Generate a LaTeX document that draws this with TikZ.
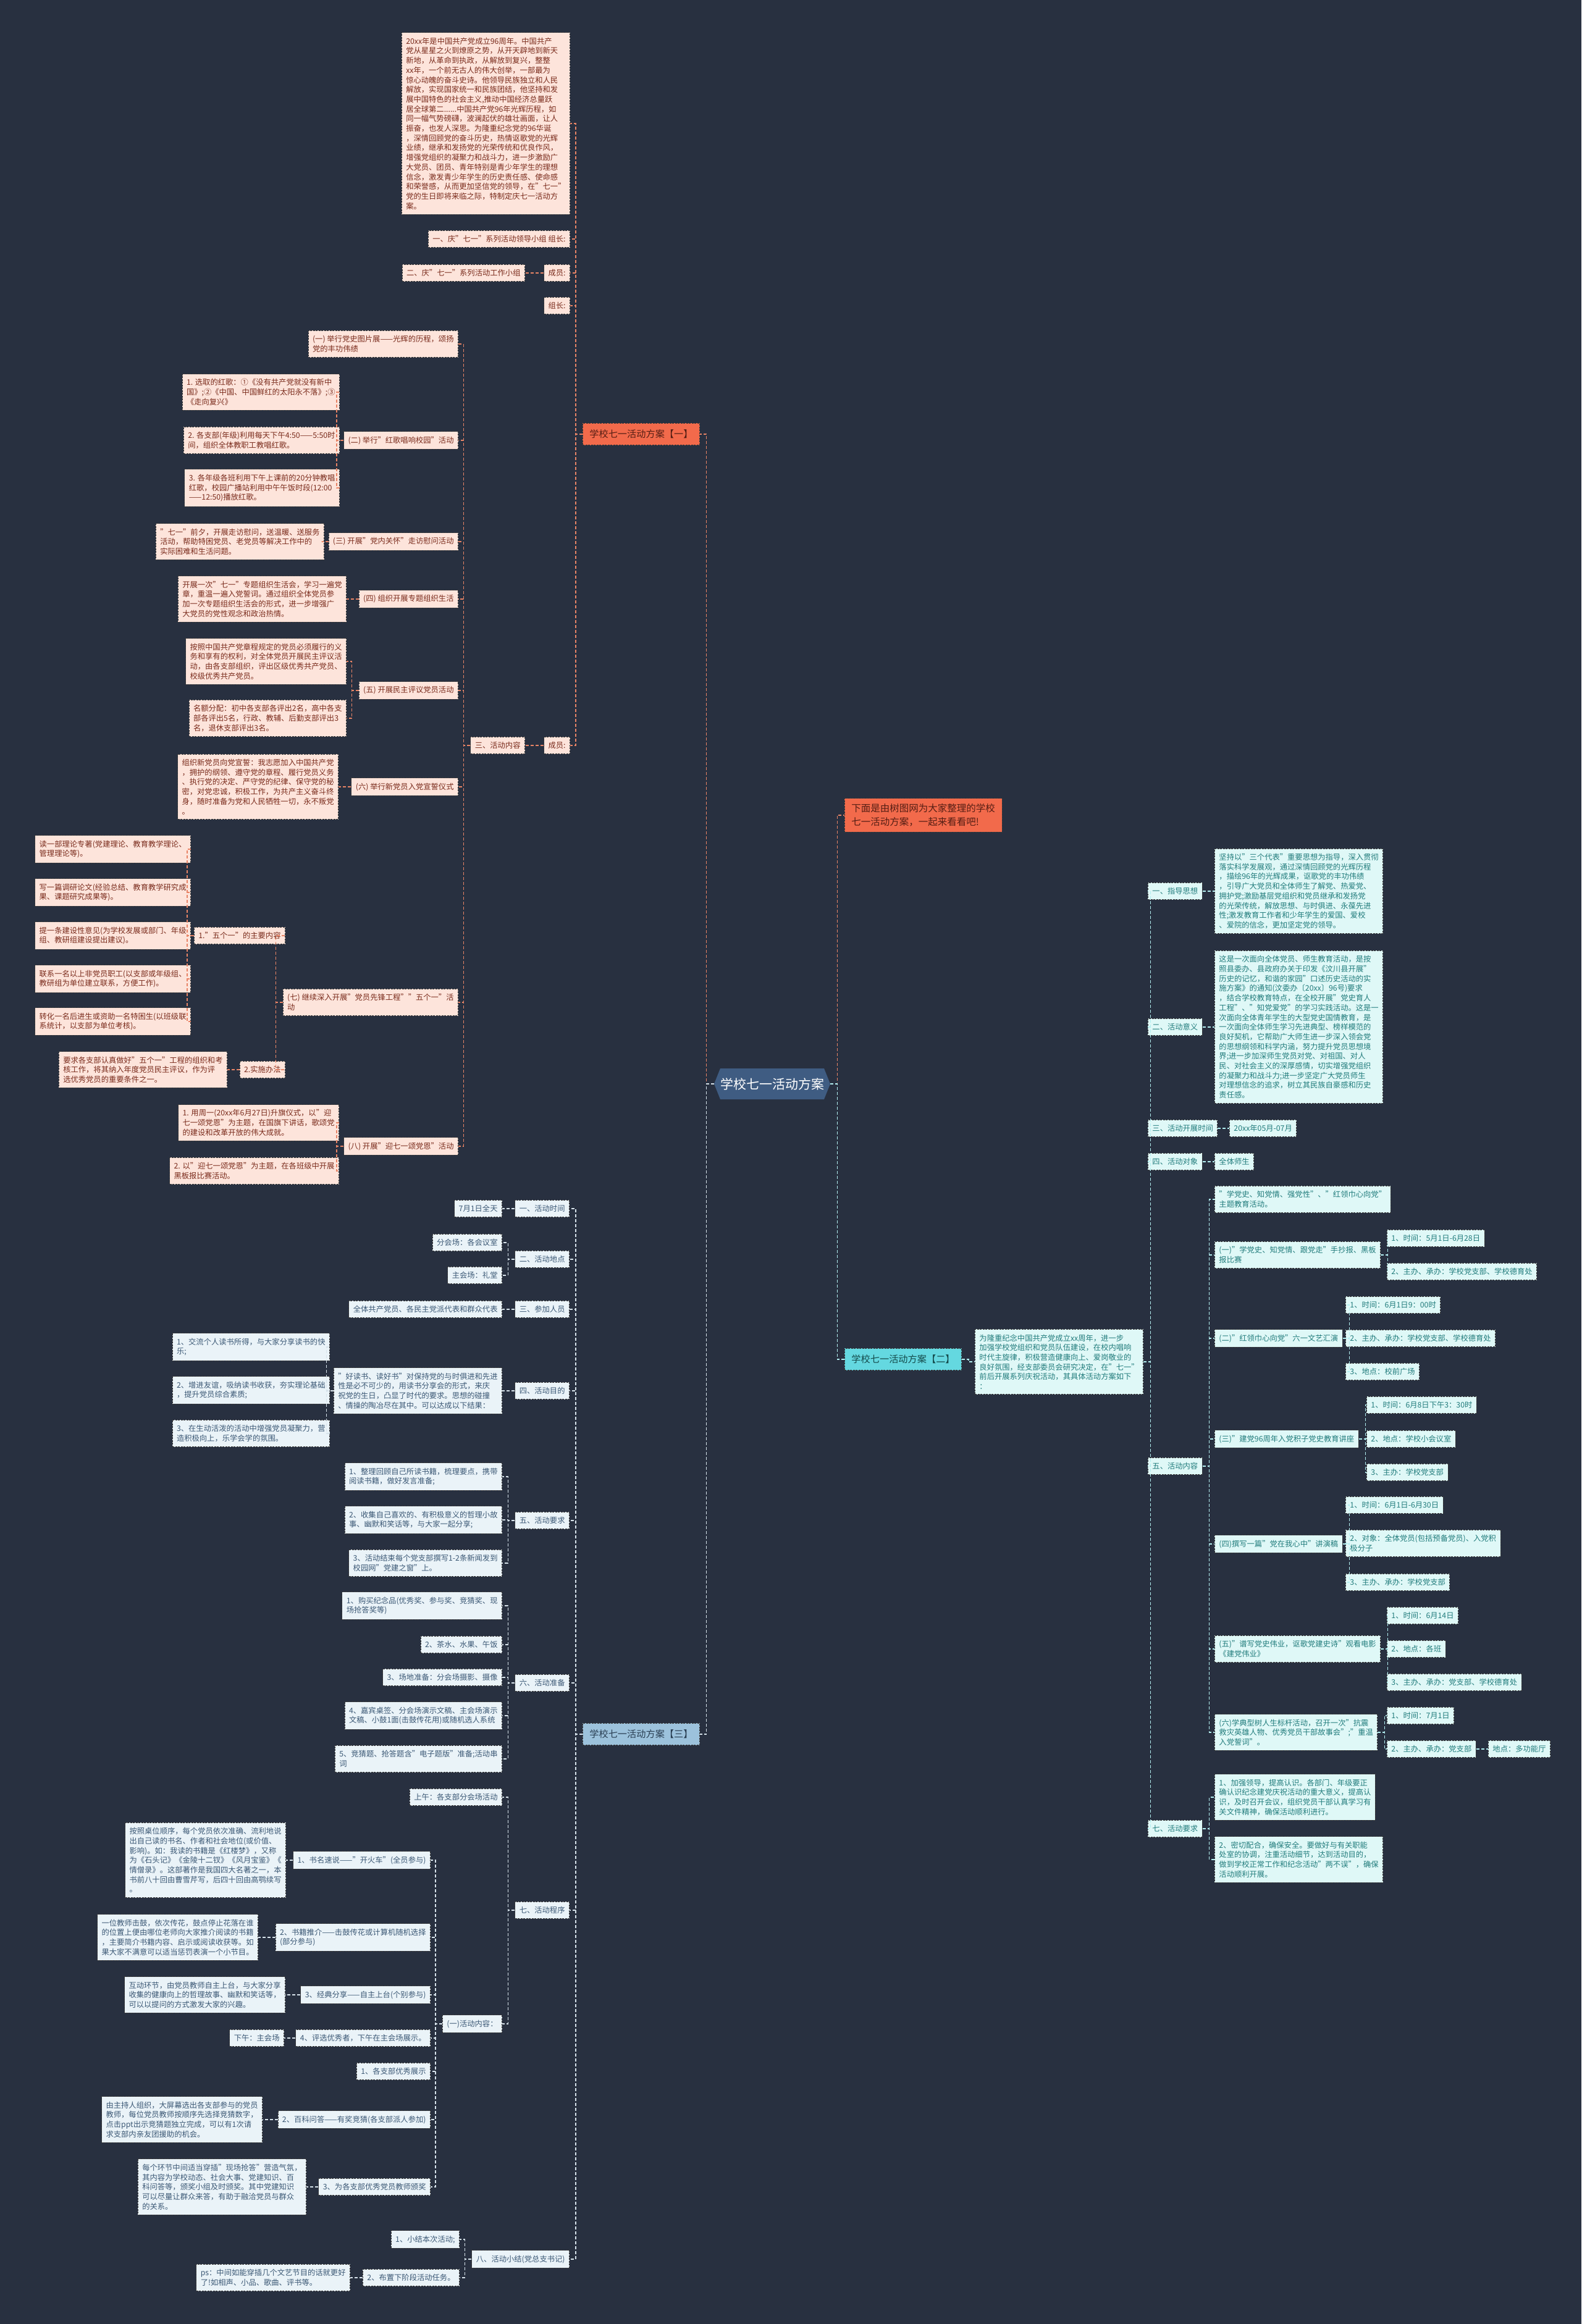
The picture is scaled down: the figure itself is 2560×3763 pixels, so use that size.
\documentclass[tikz,border=0pt]{standalone}
\usepackage{fontspec}
\setmainfont{Noto Sans CJK SC}
\definecolor{bgc}{HTML}{283040}
\definecolor{aFill}{HTML}{FDE4DB}
\definecolor{aText}{HTML}{7A2B1C}
\definecolor{aLine}{HTML}{E88466}
\definecolor{aHead}{HTML}{F26A4B}
\definecolor{bFill}{HTML}{EAF3F8}
\definecolor{bText}{HTML}{3B5875}
\definecolor{bLine}{HTML}{D6E2EA}
\definecolor{bHead}{HTML}{9CC2DC}
\definecolor{cFill}{HTML}{DFF8F7}
\definecolor{cText}{HTML}{217C7C}
\definecolor{cLine}{HTML}{B2EEF0}
\definecolor{cHead}{HTML}{64D8E0}
\definecolor{ctrFill}{HTML}{3F5C82}
\definecolor{bord}{HTML}{3A3A3A}
\tikzset{
  box/.style={font=\fontsize{12.3}{15.7}\selectfont, align=left, inner xsep=7pt, inner ysep=8pt, line width=0.9pt, dash pattern=on 3pt off 1.5pt, draw=bord},
  na/.style={box, fill=aFill, text=aText},
  nb/.style={box, fill=bFill, text=bText},
  nc/.style={box, fill=cFill, text=cText},
  hd/.style={font=\fontsize{15.2}{18}\selectfont, inner xsep=11pt, inner ysep=10.5pt, line width=0.9pt, dash pattern=on 3pt off 1.5pt, draw=bord},
  ln/.style={line width=1.3pt, dash pattern=on 5pt off 3pt},
  la/.style={ln, draw=aLine}, lb/.style={ln, draw=bLine}, lc/.style={ln, draw=cLine},
  lft/.style={anchor=east}, rgt/.style={anchor=west}
}
\newcommand\Lc[3]{\draw[#1] (#3.west) -- ++(-11,0) |- (#2.east);}
\newcommand\Rc[3]{\draw[#1] (#3.east) -- ++(11,0) |- (#2.west);}
\begin{document}
\begin{tikzpicture}[x=1pt,y=-1pt]
\useasboundingbox (0,0) rectangle (2560,3763);
\fill[bgc] (0,0) rectangle (2560,3763);
% ---------- centre ----------
\fill[ctrFill] (1156,1755) -- (1166,1730) -- (1334,1730) -- (1344,1755) -- (1334,1780) -- (1166,1780) -- cycle;
\node[font=\fontsize{21}{25}\selectfont, text=white, minimum width=188pt, minimum height=50pt, inner sep=0pt] (ctr) at (1250,1755) {学校七一活动方案};
% ---------- heads ----------
\node[hd, fill=aHead, text=aText!70!black, lft] (a0) at (1133,703) {学校七一活动方案【一】};
\node[hd, fill=bHead, text=bText!70!black, lft] (b0) at (1133,2808) {学校七一活动方案【三】};
\node[hd, fill=cHead, text=cText!60!black, rgt] (c0) at (1367,2201) {学校七一活动方案【二】};
\node[hd, fill=aHead, text=aText!70!black, rgt, font=\fontsize{15.5}{22}\selectfont, align=left, inner xsep=11pt, inner ysep=9pt] (iN) at (1367,1320) {下面是由树图网为大家整理的学校\\七一活动方案，一起来看看吧!};
% ---------- branch one ----------
\node[na, lft] (aP) at (923,200) {20xx年是中国共产党成立96周年。中国共产\\党从星星之火到燎原之势，从开天辟地到新天\\新地，从革命到执政，从解放到复兴，整整\\xx年，一个前无古人的伟大创举，一部最为\\惊心动魄的奋斗史诗。他领导民族独立和人民\\解放，实现国家统一和民族团结，他坚持和发\\展中国特色的社会主义,推动中国经济总量跃\\居全球第二......中国共产党96年光辉历程，如\\同一幅气势磅礴，波澜起伏的雄壮画面，让人\\振奋，也发人深思。为隆重纪念党的96华诞\\，深情回顾党的奋斗历史，热情讴歌党的光辉\\业绩，继承和发扬党的光荣传统和优良作风，\\增强党组织的凝聚力和战斗力，进一步激励广\\大党员、团员、青年特别是青少年学生的理想\\信念，激发青少年学生的历史责任感、使命感\\和荣誉感，从而更加坚信党的领导，在"七一"\\党的生日即将来临之际，特制定庆七一活动方\\案。};
\node[na, lft] (aL1) at (923,387) {一、庆"七一"系列活动领导小组 组长:};
\node[na, lft] (aM1) at (923,442) {成员:};
\node[na, lft] (aG2) at (850,442) {二、庆"七一"系列活动工作小组};
\node[na, lft] (aZ) at (923,495) {组长:};
\node[na, lft] (aM2) at (923,1207) {成员:};
\node[na, lft] (aS3) at (850,1207) {三、活动内容};
\node[na, lft] (a1) at (742,557) {(一) 举行党史图片展——光辉的历程，颂扬\\党的丰功伟绩};
\node[na, lft] (a2) at (742,713) {(二) 举行"红歌唱响校园"活动};
\node[na, lft] (a21) at (550,635) {1. 选取的红歌：①《没有共产党就没有新中\\国》;②《中国、中国鲜红的太阳永不落》;③\\《走向复兴》};
\node[na, lft] (a22) at (550,713) {2. 各支部(年级)利用每天下午4:50——5:50时\\间，组织全体教职工教唱红歌。};
\node[na, lft] (a23) at (550,790) {3. 各年级各班利用下午上课前的20分钟教唱\\红歌，校园广播站利用中午午饭时段(12:00\\——12:50)播放红歌。};
\node[na, lft] (a3) at (742,877) {(三) 开展"党内关怀"走访慰问活动};
\node[na, lft] (a31) at (525,877) {"七一"前夕，开展走访慰问，送温暖、送服务\\活动，帮助特困党员、老党员等解决工作中的\\实际困难和生活问题。};
\node[na, lft] (a4) at (742,970) {(四) 组织开展专题组织生活};
\node[na, lft] (a41) at (561,970) {开展一次"七一"专题组织生活会，学习一遍党\\章，重温一遍入党誓词。通过组织全体党员参\\加一次专题组织生活会的形式，进一步增强广\\大党员的党性观念和政治热情。};
\node[na, lft] (a5) at (742,1118) {(五) 开展民主评议党员活动};
\node[na, lft] (a51) at (561,1071) {按照中国共产党章程规定的党员必须履行的义\\务和享有的权利，对全体党员开展民主评议活\\动，由各支部组织，评出区级优秀共产党员、\\校级优秀共产党员。};
\node[na, lft] (a52) at (561,1163) {名额分配：初中各支部各评出2名，高中各支\\部各评出5名，行政、教辅、后勤支部评出3\\名，退休支部评出3名。};
\node[na, lft] (a6) at (742,1274) {(六) 举行新党员入党宣誓仪式};
\node[na, lft] (a61) at (548,1274) {组织新党员向党宣誓：我志愿加入中国共产党\\，拥护的纲领、遵守党的章程、履行党员义务\\、执行党的决定、严守党的纪律、保守党的秘\\密，对党忠诚，积极工作，为共产主义奋斗终\\身，随时准备为党和人民牺牲一切，永不叛党\\。};
\node[na, lft] (a7) at (742,1623) {(七) 继续深入开展"党员先锋工程""五个一"活\\动};
\node[na, lft] (a71) at (462,1515) {1."五个一"的主要内容};
\node[na, lft] (a711) at (309,1375) {读一部理论专著(党建理论、教育教学理论、\\管理理论等)。};
\node[na, lft] (a712) at (309,1445) {写一篇调研论文(经验总结、教育教学研究成\\果、课题研究成果等)。};
\node[na, lft] (a713) at (309,1515) {提一条建设性意见(为学校发展或部门、年级\\组、教研组建设提出建议)。};
\node[na, lft] (a714) at (309,1585) {联系一名以上非党员职工(以支部或年级组、\\教研组为单位建立联系，方便工作)。};
\node[na, lft] (a715) at (309,1654) {转化一名后进生或资助一名特困生(以班级联\\系统计，以支部为单位考核)。};
\node[na, lft] (a72) at (462,1732) {2.实施办法};
\node[na, lft] (a721) at (368,1732) {要求各支部认真做好"五个一"工程的组织和考\\核工作，将其纳入年度党员民主评议，作为评\\选优秀党员的重要条件之一。};
\node[na, lft] (a8) at (742,1856) {(八) 开展"迎七一颂党恩"活动};
\node[na, lft] (a81) at (549,1818) {1. 用周一(20xx年6月27日)升旗仪式，以"迎\\七一颂党恩"为主题，在国旗下讲话，歌颂党\\的建设和改革开放的伟大成就。};
\node[na, lft] (a82) at (549,1896) {2. 以"迎七一颂党恩"为主题，在各班级中开展\\黑板报比赛活动。};
% ---------- branch three ----------
\node[nb, lft] (b1) at (922,1957) {一、活动时间};
\node[nb, lft] (b11) at (813,1957) {7月1日全天};
\node[nb, lft] (b2) at (922,2039) {二、活动地点};
\node[nb, lft] (b21) at (813,2012) {分会场：各会议室};
\node[nb, lft] (b22) at (813,2065) {主会场：礼堂};
\node[nb, lft] (b3) at (922,2120) {三、参加人员};
\node[nb, lft] (b31) at (813,2120) {全体共产党员、各民主党派代表和群众代表};
\node[nb, lft] (b4) at (922,2252) {四、活动目的};
\node[nb, lft] (b41) at (813,2252) {"好读书、读好书"对保持党的与时俱进和先进\\性是必不可少的，用读书分享会的形式，来庆\\祝党的生日，凸显了时代的要求。思想的碰撞\\、情操的陶冶尽在其中。可以达成以下结果：};
\node[nb, lft] (b411) at (534,2181) {1、交流个人读书所得，与大家分享读书的快\\乐;};
\node[nb, lft] (b412) at (534,2251) {2、增进友谊，吸纳读书收获，夯实理论基础\\，提升党员综合素质;};
\node[nb, lft] (b413) at (534,2321) {3、在生动活泼的活动中增强党员凝聚力，营\\造积极向上，乐学会学的氛围。};
\node[nb, lft] (b5) at (922,2462) {五、活动要求};
\node[nb, lft] (b51) at (813,2391) {1、整理回顾自己所读书籍，梳理要点，携带\\阅读书籍，做好发言准备;};
\node[nb, lft] (b52) at (813,2461) {2、收集自己喜欢的、有积极意义的哲理小故\\事、幽默和笑话等，与大家一起分享;};
\node[nb, lft] (b53) at (813,2531) {3、活动结束每个党支部撰写1-2条新闻发到\\校园网"党建之窗"上。};
\node[nb, lft] (b6) at (922,2725) {六、活动准备};
\node[nb, lft] (b61) at (813,2600) {1、购买纪念品(优秀奖、参与奖、竞猜奖、现\\场抢答奖等)};
\node[nb, lft] (b62) at (813,2663) {2、茶水、水果、午饭};
\node[nb, lft] (b63) at (813,2716) {3、场地准备：分会场摄影、摄像};
\node[nb, lft] (b64) at (813,2778) {4、嘉宾桌签、分会场演示文稿、主会场演示\\文稿、小鼓1面(击鼓传花用)或随机选人系统};
\node[nb, lft] (b65) at (813,2848) {5、竞猜题、抢答题含"电子题版"准备;活动串\\词};
\node[nb, lft] (b7) at (922,3093) {七、活动程序};
\node[nb, lft] (b71) at (813,2910) {上午：各支部分会场活动};
\node[nb, lft] (b72) at (813,3277) {(一)活动内容：};
\node[nb, lft] (b721) at (697,3012) {1、书名速说——"开火车"(全员参与)};
\node[nb, lft] (b7211) at (463,3012) {按照桌位顺序，每个党员依次准确、流利地说\\出自己读的书名、作者和社会地位(或价值、\\影响)。如：我读的书籍是《红楼梦》，又称\\为《石头记》《金陵十二钗》《风月宝鉴》《\\情僧录》。这部著作是我国四大名著之一，本\\书前八十回由曹雪芹写，后四十回由高鹗续写\\。};
\node[nb, lft] (b722) at (697,3137) {2、书籍推介——击鼓传花或计算机随机选择\\(部分参与)};
\node[nb, lft] (b7221) at (418,3137) {一位教师击鼓，依次传花，鼓点停止花落在谁\\的位置上便由哪位老师向大家推介阅读的书籍\\，主要简介书籍内容、启示或阅读收获等。如\\果大家不满意可以适当惩罚表演一个小节目。};
\node[nb, lft] (b723) at (697,3230) {3、经典分享——自主上台(个别参与)};
\node[nb, lft] (b7231) at (462,3230) {互动环节，由党员教师自主上台，与大家分享\\收集的健康向上的哲理故事、幽默和笑话等，\\可以以提问的方式激发大家的兴趣。};
\node[nb, lft] (b724) at (697,3300) {4、评选优秀者，下午在主会场展示。};
\node[nb, lft] (b7241) at (460,3300) {下午：主会场};
\node[nb, lft] (b725) at (697,3354) {1、各支部优秀展示};
\node[nb, lft] (b726) at (697,3432) {2、百科问答——有奖竞猜(各支部派人参加)};
\node[nb, lft] (b7261) at (425,3432) {由主持人组织，大屏幕选出各支部参与的党员\\教师，每位党员教师按顺序先选择竞猜数字，\\点击ppt出示竞猜题独立完成，可以有1次请\\求支部内亲友团援助的机会。};
\node[nb, lft] (b727) at (697,3541) {3、为各支部优秀党员教师颁奖};
\node[nb, lft] (b7271) at (496,3541) {每个环节中间适当穿插"现场抢答"营造气氛，\\其内容为学校动态、社会大事、党建知识、百\\科问答等，颁奖小组及时颁奖。其中党建知识\\可以尽量让群众来答，有助于融洽党员与群众\\的关系。};
\node[nb, lft] (b8) at (922,3658) {八、活动小结(党总支书记)};
\node[nb, lft] (b81) at (744,3626) {1、小结本次活动;};
\node[nb, lft] (b82) at (744,3688) {2、布置下阶段活动任务。};
\node[nb, lft] (b821) at (567,3688) {ps：中间如能穿插几个文艺节目的话就更好\\了!如相声、小品、歌曲、评书等。};
% ---------- branch two ----------
\node[nc, rgt] (cP) at (1578,2205) {为隆重纪念中国共产党成立xx周年，进一步\\加强学校党组织和党员队伍建设，在校内唱响\\时代主旋律，积极营造健康向上、爱岗敬业的\\良好氛围，经支部委员会研究决定，在"七一"\\前后开展系列庆祝活动，其具体活动方案如下\\：};
\node[nc, rgt] (c1) at (1858,1443) {一、指导思想};
\node[nc, rgt] (c11) at (1966,1443) {坚持以"三个代表"重要思想为指导，深入贯彻\\落实科学发展观，通过深情回顾党的光辉历程\\，描绘96年的光辉成果，讴歌党的丰功伟绩\\，引导广大党员和全体师生了解党、热爱党、\\拥护党;激励基层党组织和党员继承和发扬党\\的光荣传统，解放思想、与时俱进、永葆先进\\性;激发教育工作者和少年学生的爱国、爱校\\、爱院的信念，更加坚定党的领导。};
\node[nc, rgt] (c2) at (1858,1663) {二、活动意义};
\node[nc, rgt] (c21) at (1966,1663) {这是一次面向全体党员、师生教育活动，是按\\照县委办、县政府办关于印发《汶川县开展"\\历史的记忆，和谐的家园"口述历史活动的实\\施方案》的通知(汶委办〔20xx〕96号)要求\\，结合学校教育特点，在全校开展"党史育人\\工程"、"知党爱党"的学习实践活动。这是一\\次面向全体青年学生的大型党史国情教育，是\\一次面向全体师生学习先进典型、榜样模范的\\良好契机，它帮助广大师生进一步深入领会党\\的思想纲领和科学内涵，努力提升党员思想境\\界;进一步加深师生党员对党、对祖国、对人\\民、对社会主义的深厚感情，切实增强党组织\\的凝聚力和战斗力;进一步坚定广大党员师生\\对理想信念的追求，树立其民族自豪感和历史\\责任感。};
\node[nc, rgt] (c3) at (1858,1827) {三、活动开展时间};
\node[nc, rgt] (c31) at (1990,1827) {20xx年05月-07月};
\node[nc, rgt] (c4) at (1858,1881) {四、活动对象};
\node[nc, rgt] (c41) at (1966,1881) {全体师生};
\node[nc, rgt] (c5) at (1858,2374) {五、活动内容};
\node[nc, rgt] (c51) at (1966,1942) {"学党史、知党情、强党性"、"红领巾心向党"\\主题教育活动。};
\node[nc, rgt] (c52) at (1966,2032) {(一)"学党史、知党情、跟党走"手抄报、黑板\\报比赛};
\node[nc, rgt] (c521) at (2245,2005) {1、时间：5月1日-6月28日};
\node[nc, rgt] (c522) at (2245,2059) {2、主办、承办：学校党支部、学校德育处};
\node[nc, rgt] (c53) at (1966,2167) {(二)"红领巾心向党"六一文艺汇演};
\node[nc, rgt] (c531) at (2178,2113) {1、时间：6月1日9：00时};
\node[nc, rgt] (c532) at (2178,2167) {2、主办、承办：学校党支部、学校德育处};
\node[nc, rgt] (c533) at (2178,2221) {3、地点：校前广场};
\node[nc, rgt] (c54) at (1966,2330) {(三)"建党96周年入党积子党史教育讲座};
\node[nc, rgt] (c541) at (2212,2275) {1、时间：6月8日下午3：30时};
\node[nc, rgt] (c542) at (2212,2330) {2、地点：学校小会议室};
\node[nc, rgt] (c543) at (2212,2384) {3、主办：学校党支部};
\node[nc, rgt] (c55) at (1966,2500) {(四)撰写一篇"党在我心中"讲演稿};
\node[nc, rgt] (c551) at (2178,2437) {1、时间：6月1日-6月30日};
\node[nc, rgt] (c552) at (2178,2499) {2、对象：全体党员(包括预备党员)、入党积\\极分子};
\node[nc, rgt] (c553) at (2178,2562) {3、主办、承办：学校党支部};
\node[nc, rgt] (c56) at (1966,2670) {(五)"谱写党史伟业，讴歌党建史诗"观看电影\\《建党伟业》};
\node[nc, rgt] (c561) at (2245,2616) {1、时间：6月14日};
\node[nc, rgt] (c562) at (2245,2670) {2、地点：各班};
\node[nc, rgt] (c563) at (2245,2724) {3、主办、承办：党支部、学校德育处};
\node[nc, rgt] (c57) at (1966,2805) {(六)学典型树人生标杆活动，召开一次"抗震\\救灾英雄人物、优秀党员干部故事会";"重温\\入党誓词"。};
\node[nc, rgt] (c571) at (2245,2778) {1、时间：7月1日};
\node[nc, rgt] (c572) at (2245,2832) {2、主办、承办：党支部};
\node[nc, rgt] (c5721) at (2409,2832) {地点：多功能厅};
\node[nc, rgt] (c7) at (1858,2961) {七、活动要求};
\node[nc, rgt] (c71) at (1966,2910) {1、加强领导，提高认识。各部门、年级要正\\确认识纪念建党庆祝活动的重大意义，提高认\\识，及时召开会议，组织党员干部认真学习有\\关文件精神，确保活动顺利进行。};
\node[nc, rgt] (c72) at (1966,3011) {2、密切配合，确保安全。要做好与有关职能\\处室的协调，注重活动细节，达到活动目的，\\做到学校正常工作和纪念活动"两不误"，确保\\活动顺利开展。};
% ---------- connectors ----------
\draw[la] (ctr.west) -- ++(-12,0) |- (a0.east);
\draw[lb] (ctr.west) -- ++(-12,0) |- (b0.east);
\draw[la] (ctr.east) -- ++(11,0) |- (iN.west);
\draw[lc] (ctr.east) -- ++(11,0) |- (c0.west);
% one
\Lc{la}{aP}{a0}\Lc{la}{aL1}{a0}\Lc{la}{aM1}{a0}\Lc{la}{aZ}{a0}\Lc{la}{aM2}{a0}
\Lc{la}{aG2}{aM1}\Lc{la}{aS3}{aM2}
\Lc{la}{a1}{aS3}\Lc{la}{a2}{aS3}\Lc{la}{a3}{aS3}\Lc{la}{a4}{aS3}\Lc{la}{a5}{aS3}\Lc{la}{a6}{aS3}\Lc{la}{a7}{aS3}\Lc{la}{a8}{aS3}
\Lc{la}{a21}{a2}\Lc{la}{a22}{a2}\Lc{la}{a23}{a2}
\Lc{la}{a31}{a3}\Lc{la}{a41}{a4}
\Lc{la}{a51}{a5}\Lc{la}{a52}{a5}
\Lc{la}{a61}{a6}
\Lc{la}{a71}{a7}\Lc{la}{a72}{a7}
\Lc{la}{a711}{a71}\Lc{la}{a712}{a71}\Lc{la}{a713}{a71}\Lc{la}{a714}{a71}\Lc{la}{a715}{a71}
\Lc{la}{a721}{a72}
\Lc{la}{a81}{a8}\Lc{la}{a82}{a8}
% three
\Lc{lb}{b1}{b0}\Lc{lb}{b2}{b0}\Lc{lb}{b3}{b0}\Lc{lb}{b4}{b0}\Lc{lb}{b5}{b0}\Lc{lb}{b6}{b0}\Lc{lb}{b7}{b0}\Lc{lb}{b8}{b0}
\Lc{lb}{b11}{b1}\Lc{lb}{b21}{b2}\Lc{lb}{b22}{b2}\Lc{lb}{b31}{b3}\Lc{lb}{b41}{b4}
\Lc{lb}{b411}{b41}\Lc{lb}{b412}{b41}\Lc{lb}{b413}{b41}
\Lc{lb}{b51}{b5}\Lc{lb}{b52}{b5}\Lc{lb}{b53}{b5}
\Lc{lb}{b61}{b6}\Lc{lb}{b62}{b6}\Lc{lb}{b63}{b6}\Lc{lb}{b64}{b6}\Lc{lb}{b65}{b6}
\Lc{lb}{b71}{b7}\Lc{lb}{b72}{b7}
\Lc{lb}{b721}{b72}\Lc{lb}{b722}{b72}\Lc{lb}{b723}{b72}\Lc{lb}{b724}{b72}\Lc{lb}{b725}{b72}\Lc{lb}{b726}{b72}\Lc{lb}{b727}{b72}
\Lc{lb}{b7211}{b721}\Lc{lb}{b7221}{b722}\Lc{lb}{b7231}{b723}\Lc{lb}{b7241}{b724}\Lc{lb}{b7261}{b726}\Lc{lb}{b7271}{b727}
\Lc{lb}{b81}{b8}\Lc{lb}{b82}{b8}\Lc{lb}{b821}{b82}
% two
\Rc{lc}{cP}{c0}
\Rc{lc}{c1}{cP}\Rc{lc}{c2}{cP}\Rc{lc}{c3}{cP}\Rc{lc}{c4}{cP}\Rc{lc}{c5}{cP}\Rc{lc}{c7}{cP}
\Rc{lc}{c11}{c1}\Rc{lc}{c21}{c2}\Rc{lc}{c31}{c3}\Rc{lc}{c41}{c4}
\Rc{lc}{c51}{c5}\Rc{lc}{c52}{c5}\Rc{lc}{c53}{c5}\Rc{lc}{c54}{c5}\Rc{lc}{c55}{c5}\Rc{lc}{c56}{c5}\Rc{lc}{c57}{c5}
\Rc{lc}{c521}{c52}\Rc{lc}{c522}{c52}
\Rc{lc}{c531}{c53}\Rc{lc}{c532}{c53}\Rc{lc}{c533}{c53}
\Rc{lc}{c541}{c54}\Rc{lc}{c542}{c54}\Rc{lc}{c543}{c54}
\Rc{lc}{c551}{c55}\Rc{lc}{c552}{c55}\Rc{lc}{c553}{c55}
\Rc{lc}{c561}{c56}\Rc{lc}{c562}{c56}\Rc{lc}{c563}{c56}
\Rc{lc}{c571}{c57}\Rc{lc}{c572}{c57}\Rc{lc}{c5721}{c572}
\Rc{lc}{c71}{c7}\Rc{lc}{c72}{c7}
\end{tikzpicture}
\end{document}
